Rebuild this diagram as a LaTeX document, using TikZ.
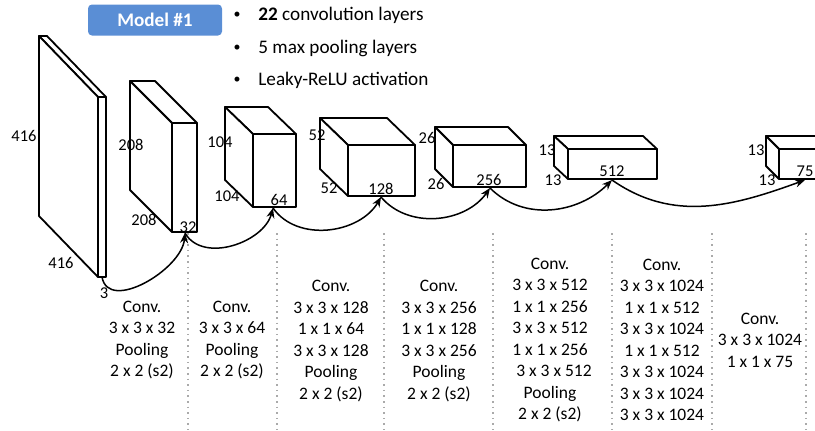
\documentclass[tikz,border=0pt]{standalone}
\usepackage{fontspec}
\setmainfont{Carlito}
\usetikzlibrary{arrows.meta}
\tikzset{>=stealth}
\definecolor{modelBlue}{RGB}{90,142,213}
\definecolor{sepGray}{RGB}{170,170,170}
\tikzset{
  layerbox/.style={draw, fill=white, line width=0.9pt, line join=round},
  dimlabel/.style={inner sep=0pt, font=\fontsize{8.25}{10}\selectfont},
  layertext/.style={align=center, inner sep=0pt, font=\fontsize{8.75}{10.75}\selectfont},
  infotext/.style={anchor=west, inner sep=0pt, font=\fontsize{9.6}{11}\selectfont},
  bulletmark/.style={inner sep=0pt, font=\fontsize{7}{8}\selectfont},
  flow/.style={-{Stealth[length=5pt,width=4pt]}, line width=0.75pt},
  sepline/.style={sepGray, dotted, line width=0.8pt}
}
% front face x1,y1,x2,y2 and depth dx,dy (picture pixels)
\newcommand{\cuboid}[6]{
  \draw[layerbox] (#1,#2) -- (#1-#5,#2-#6) -- (#3-#5,#2-#6) -- (#3,#2) -- cycle;
  \draw[layerbox] (#1,#2) -- (#1-#5,#2-#6) -- (#1-#5,#4-#6) -- (#1,#4) -- cycle;
  \draw[layerbox] (#1,#2) rectangle (#3,#4);
}
\begin{document}
\begin{tikzpicture}[x=0.5pt,y=-0.5pt]
\useasboundingbox (0,0) rectangle (815,430);
\clip (0,0) rectangle (815,430);

\node (model) at (155,20) [fill=modelBlue,rounded corners=2pt,minimum width=67pt,minimum height=15.5pt,text=white,font=\fontsize{9.6}{11}\selectfont\bfseries] {Model \#1};
\node (b1) at (237,15) [bulletmark] {•};
\node (b2) at (237,48) [bulletmark] {•};
\node (b3) at (237,80) [bulletmark] {•};
\node (t1) at (258,15) [infotext] {\textbf{22} convolution layers};
\node (t2) at (258,48) [infotext] {5 max pooling layers};
\node (t3) at (258,80) [infotext] {Leaky-ReLU activation};

\cuboid{98}{97}{106}{277}{59}{61}
\cuboid{172}{123}{197}{232}{42}{42}
\cuboid{253}{134}{296}{207}{28}{27}
\cuboid{348}{145}{415}{196}{28}{27}
\cuboid{453}{145}{526}{187}{18}{18}
\cuboid{568}{149}{657}{179}{14}{13}
\cuboid{779}{149}{840}{179}{13}{13}

\node (h1) at (24,136) [dimlabel] {416};
\node (w1) at (61,263) [dimlabel] {416};
\node (c1) at (104,293) [dimlabel] {3};
\node (h2) at (131,145) [dimlabel] {208};
\node (w2) at (144,220) [dimlabel] {208};
\node (c2) at (188,227) [dimlabel] {32};
\node (h3) at (220,142) [dimlabel] {104};
\node (w3) at (227,196) [dimlabel] {104};
\node (c3) at (279,200) [dimlabel] {64};
\node (h4) at (317,135) [dimlabel] {52};
\node (w4) at (329,188) [dimlabel] {52};
\node (c4) at (381,189) [dimlabel] {128};
\node (h5) at (427,138) [dimlabel] {26};
\node (w5) at (436,184) [dimlabel] {26};
\node (c5) at (489,180) [dimlabel] {256};
\node (h6) at (547,150) [dimlabel] {13};
\node (w6) at (553,180) [dimlabel] {13};
\node (c6) at (612,171) [dimlabel] {512};
\node (h7) at (756,150) [dimlabel] {13};
\node (w7) at (767,180) [dimlabel] {13};
\node (c7) at (805,171) [dimlabel] {75};

\coordinate (o1) at (102,277);
\coordinate (o2) at (185,233);
\coordinate (o3) at (273,208);
\coordinate (o4) at (381,197);
\coordinate (o5) at (490,188);
\coordinate (o6) at (612,180);
\coordinate (o7) at (805,180);

\draw [flow] (o1) to[out=-80,in=-95] (o2);
\draw [flow] (o2) to[out=-60,in=-105] (o3);
\draw [flow] (o3) to[out=-55,in=-120] (o4);
\draw [flow] (o4) to[out=-50,in=-125] (o5);
\draw [flow] (o5) to[out=-45,in=-135] (o6);
\draw [flow] (o6) to[out=-35,in=-160] (o7);

\foreach \xs in {188,277,384,493,612,712,806}
  \draw [sepline] (\xs,233) -- (\xs,430);

\node (l1) at (142,340) [layertext] {Conv.\\3 x 3 x 32\\Pooling\\2 x 2 (s2)};
\node (l2) at (232,340) [layertext] {Conv.\\3 x 3 x 64\\Pooling\\2 x 2 (s2)};
\node (l3) at (331,341) [layertext] {Conv.\\3 x 3 x 128\\1 x 1 x 64\\3 x 3 x 128\\Pooling\\2 x 2 (s2)};
\node (l4) at (439,341) [layertext] {Conv.\\3 x 3 x 256\\1 x 1 x 128\\3 x 3 x 256\\Pooling\\2 x 2 (s2)};
\node (l5) at (550,340) [layertext] {Conv.\\3 x 3 x 512\\1 x 1 x 256\\3 x 3 x 512\\1 x 1 x 256\\\hspace{4pt}3 x 3 x 512\\Pooling\\2 x 2 (s2)};
\node (l6) at (662,340) [layertext] {Conv.\\3 x 3 x 1024\\1 x 1 x 512\\3 x 3 x 1024\\1 x 1 x 512\\3 x 3 x 1024\\3 x 3 x 1024\\3 x 3 x 1024};
\node (l7) at (760,340) [layertext] {Conv.\\3 x 3 x 1024\\1 x 1 x 75};

\end{tikzpicture}
\end{document}
